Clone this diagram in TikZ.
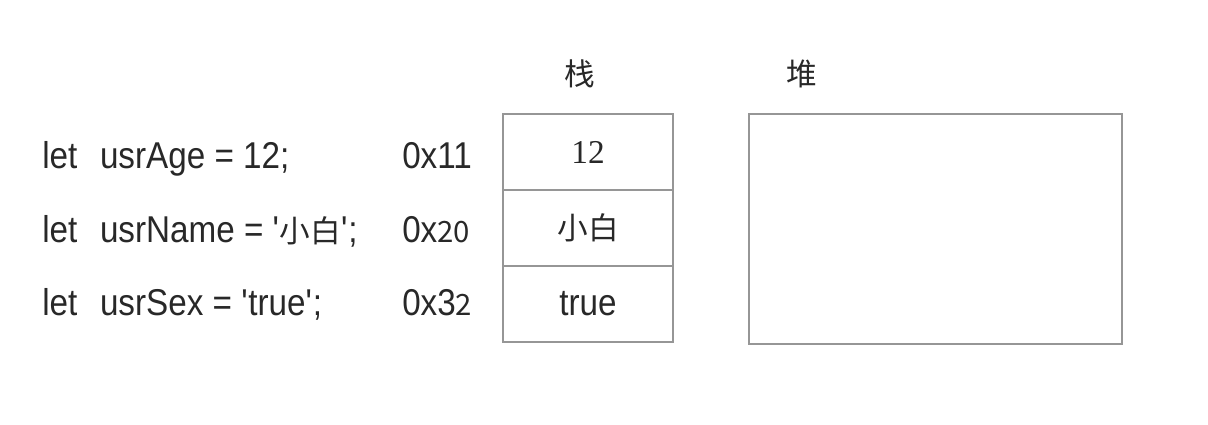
\documentclass[tikz,border=0pt]{standalone}
\usepackage{fontspec}
\setmainfont{Liberation Sans}[FakeStretch=0.89]
\newfontfamily\cjk{Noto Sans CJK SC}
\newfontfamily\serifnum{Liberation Serif}
\usetikzlibrary{positioning}
\definecolor{boxgray}{RGB}{150,150,150}
\definecolor{textgray}{RGB}{40,40,40}

\begin{document}
\begin{tikzpicture}[x=0.75pt, y=-0.75pt, font=\fontsize{28}{32}\selectfont, text=textgray,
    cell/.style={draw=boxgray, line width=1.1pt, minimum width=127.5pt, minimum height=57pt, inner sep=0pt, outer sep=0pt},
    code/.style={anchor=base west, inner sep=0pt},
    title/.style={font=\cjk\fontsize{23}{26}\selectfont, inner sep=0pt}]
    \useasboundingbox (0,0) rectangle (1208,425);

    % Code lines
    \node[code] (l1) at (42,168) {let\hspace{17pt}usrAge = 12;};
    \node[code] (l2) at (42,242) {let\hspace{17pt}usrName = \textquotesingle{\cjk\fontsize{23}{26}\selectfont 小白}\textquotesingle;};
    \node[code] (l3) at (42,315) {let\hspace{17pt}usrSex = \textquotesingle true\textquotesingle;};

    % Addresses
    \node[code] (a1) at (402,168) {0x11};
    \node[code] (a2) at (402,242) {0x{\cjk\fontsize{22}{26}\selectfont 20}};
    \node[code] (a3) at (402,315) {0x3{\cjk\fontsize{22}{26}\selectfont 2}};

    % Stack
    \node[title] (stacklbl) at (580,74) {栈};
    \node[cell] (s1) at (588,152) {\serifnum\fontsize{25}{28}\selectfont 12};
    \node[cell, below=0pt of s1] (s2) {\cjk\fontsize{23}{26}\selectfont 小白};
    \node[cell, below=0pt of s2] (s3) {true};

    % Heap
    \node[title] (heaplbl) at (802,74) {堆};
    \node[draw=boxgray, line width=1.1pt, minimum width=279.75pt, minimum height=172.5pt] (heap) at (935.5,229) {};
\end{tikzpicture}
\end{document}
